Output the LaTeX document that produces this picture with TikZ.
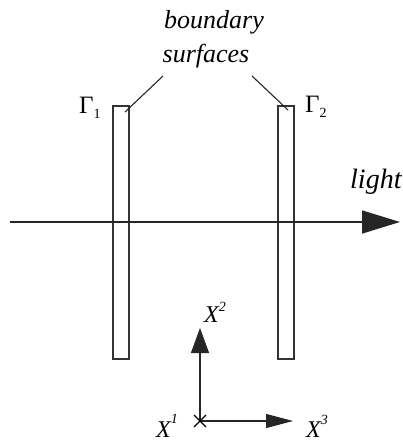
\documentclass[tikz,border=0pt]{standalone}
\usepackage{fontspec}
\setmainfont{Liberation Serif}
\usetikzlibrary{arrows.meta,calc}
\begin{document}
\begin{tikzpicture}[x=1pt,y=-1pt,
  plate/.style={draw=black!80, line width=1.5pt},
  leader/.style={draw=black!85, line width=1.1pt},
  axisline/.style={draw=black!85, line width=1.1pt},
  lbl/.style={inner sep=0pt, font=\fontsize{26}{30}\selectfont\itshape},
  xlbl/.style={inner sep=0pt, anchor=base west, font=\fontsize{24}{28}\selectfont\itshape},
  glbl/.style={inner sep=0pt, anchor=base west, font=\fontsize{25}{28}\selectfont}]
\useasboundingbox (0,0) rectangle (403,442);
% plates
\draw[plate] (113,106) rectangle (129,359);
\draw[plate] (278,106) rectangle (294,359);
\coordinate (p1) at (125,112);
\coordinate (p2) at (288,110);
% light
\coordinate (ls) at (10,222);
\coordinate (le) at (400,222);
\draw[line width=1.6pt, draw=black!85, -{Triangle[length=38pt,width=23pt]}] (ls) -- (le);
\node[lbl, anchor=base west, font=\fontsize{28}{30}\selectfont\itshape] (light) at (350,188) {light};
% labels
\node[lbl, anchor=base] (bnd) at (214,28) {boundary};
\node[lbl, anchor=base] (srf) at (206,62) {surfaces};
\coordinate (s1) at (163,76);
\coordinate (s2) at (252,76);
\draw[leader] (s1) -- (p1);
\draw[leader] (s2) -- (p2);
\node[glbl] (g1) at (79,113) {Γ\raisebox{-5pt}{\fontsize{14}{14}\selectfont 1}};
\node[glbl] (g2) at (305,112) {Γ\raisebox{-5pt}{\fontsize{14}{14}\selectfont 2}};
% axes
\coordinate (o) at (200,421);
\coordinate (x2) at (200,328);
\coordinate (x3) at (293,421);
\draw[axisline, -{Triangle[length=25pt,width=18pt]}] (o) -- (x2);
\draw[axisline, -{Triangle[length=27pt,width=14pt]}] (o) -- (x3);
\draw[line width=1.3pt] ($(o)+(-6,-6)$) -- ($(o)+(6,6)$) ($(o)+(-6,6)$) -- ($(o)+(6,-6)$);
\node[xlbl] (lx2) at (204,322) {X\raisebox{11pt}{\fontsize{14}{14}\selectfont 2}};
\node[xlbl] (lx1) at (156,437) {X\raisebox{14pt}{\fontsize{14}{14}\selectfont 1}};
\node[xlbl] (lx3) at (306,437) {X\raisebox{13pt}{\fontsize{14}{14}\selectfont 3}};
\end{tikzpicture}
\end{document}
